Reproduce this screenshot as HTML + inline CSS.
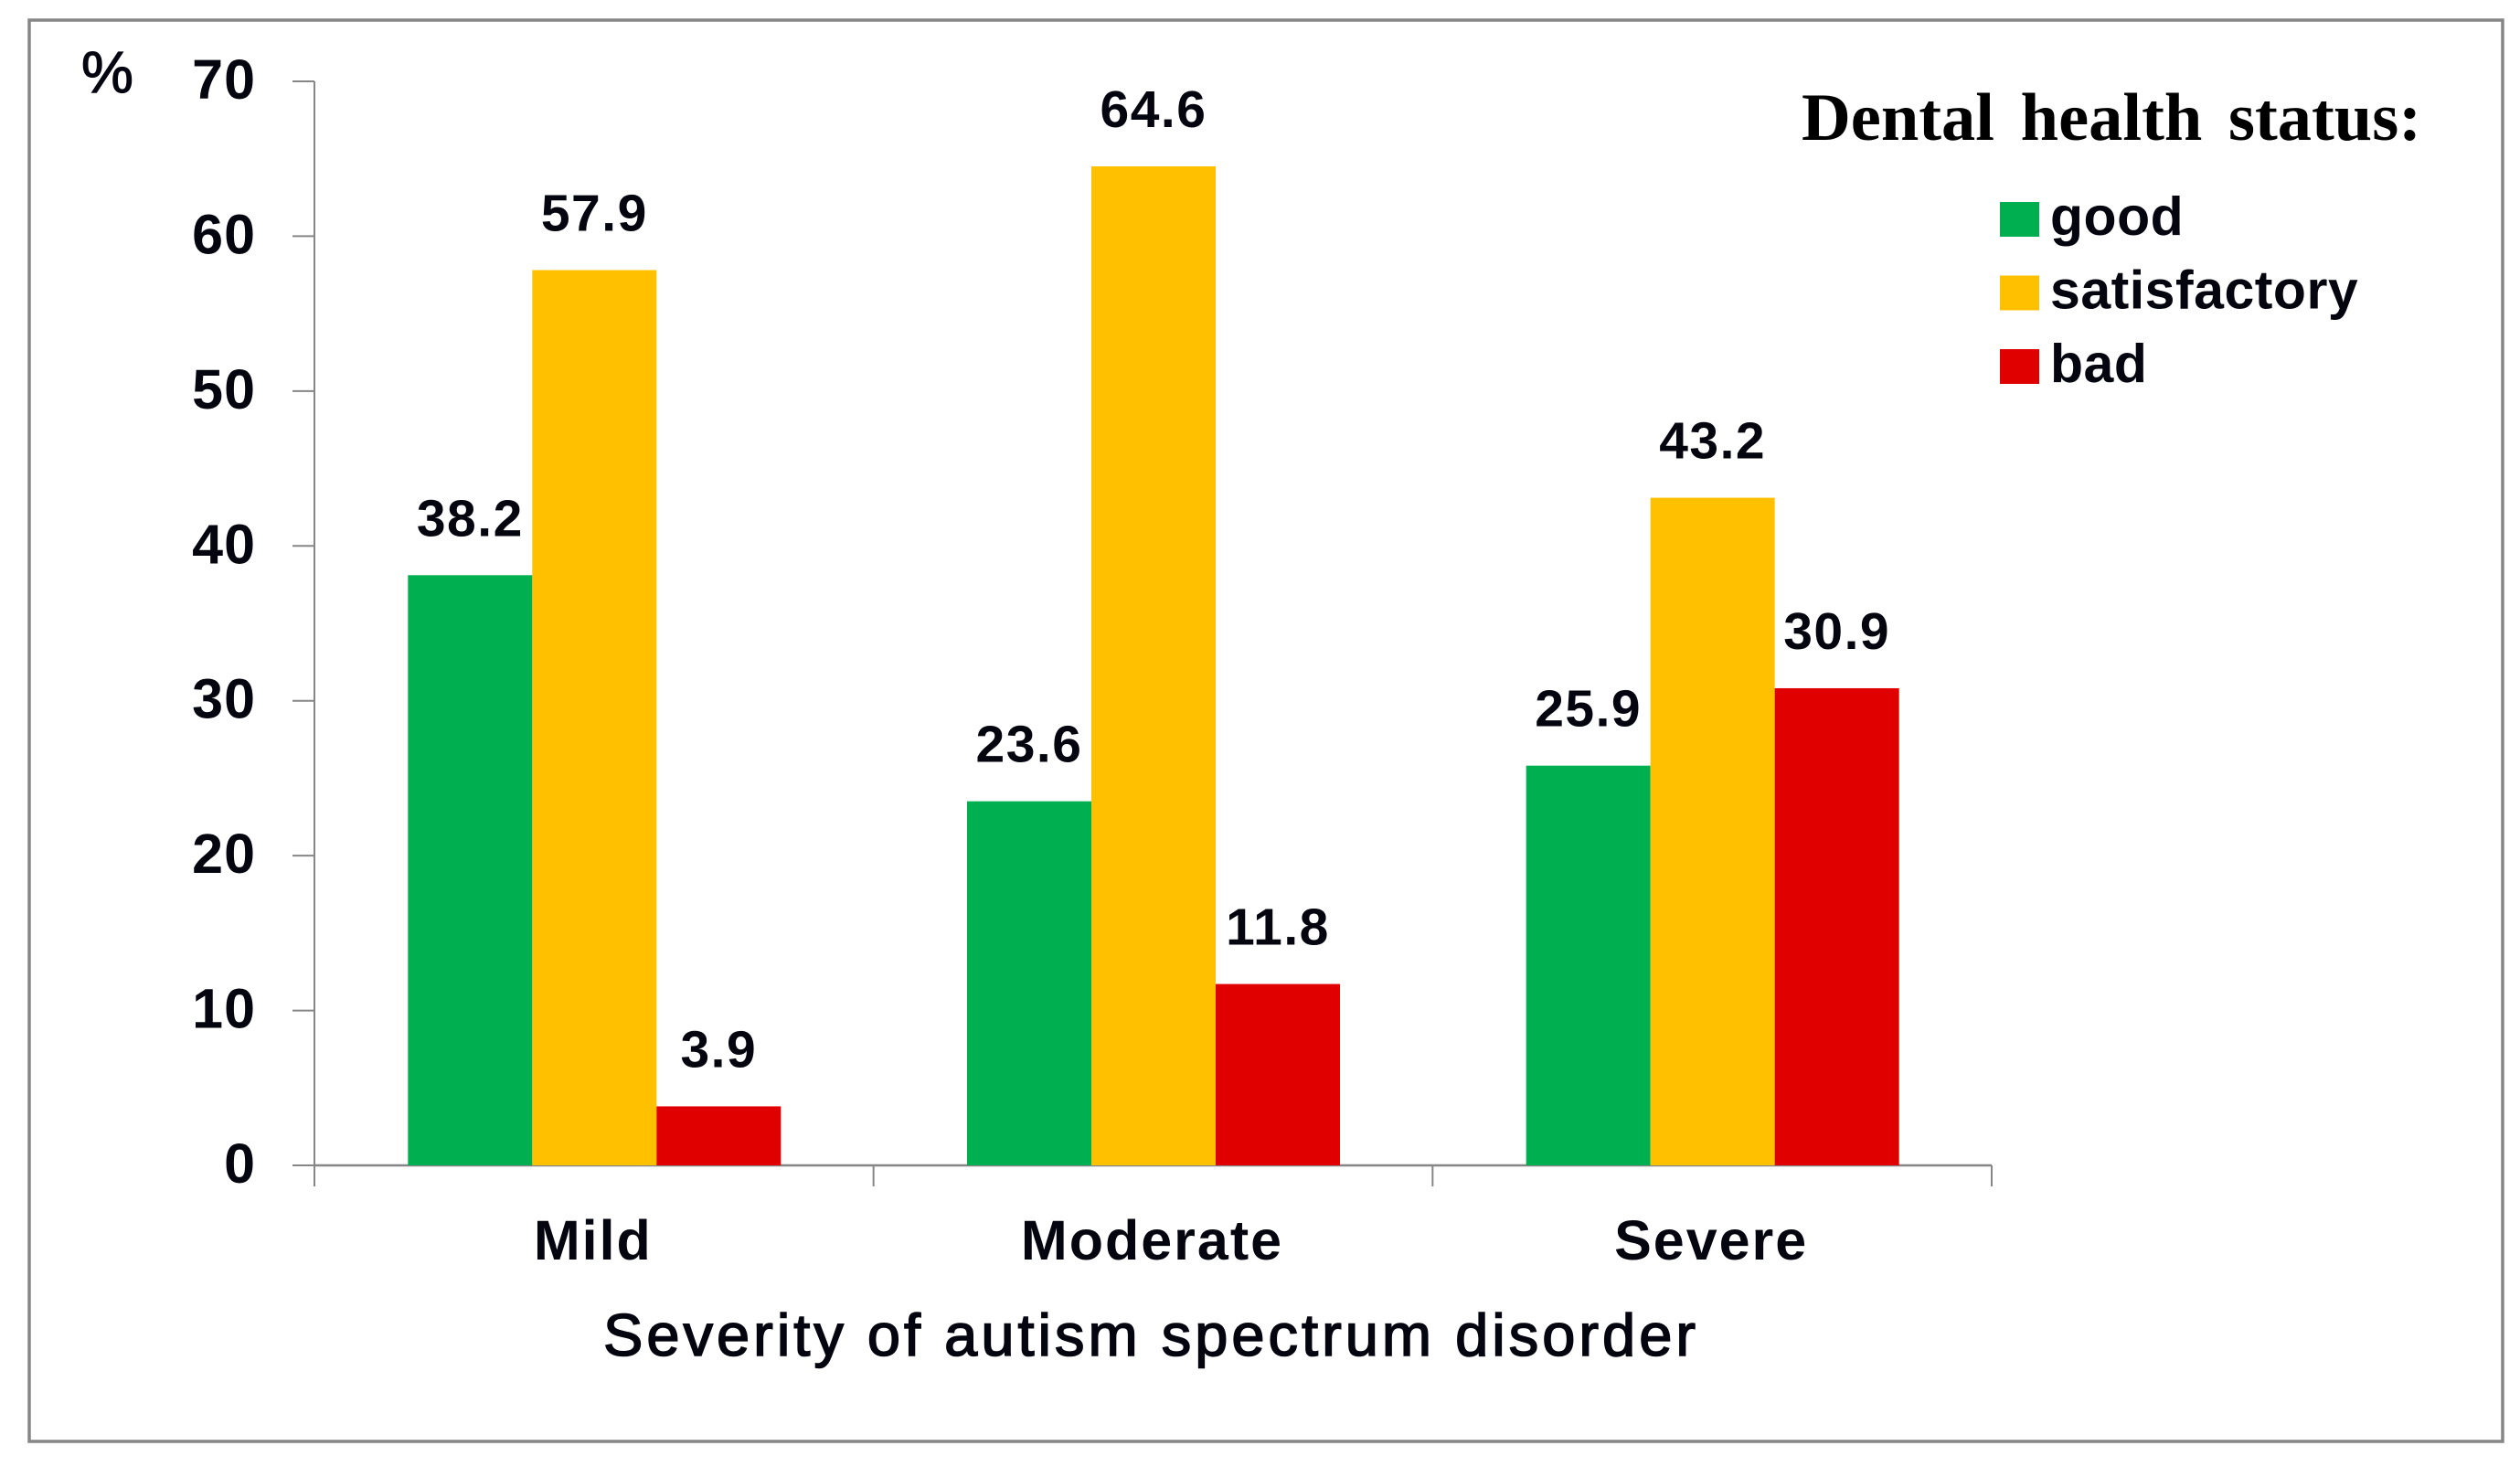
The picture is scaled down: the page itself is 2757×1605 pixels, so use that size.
<!DOCTYPE html>
<html lang="en">
<head>
<meta charset="utf-8">
<title>Dental health status by severity of autism spectrum disorder</title>
<style>
  html, body { margin: 0; padding: 0; background: #ffffff; }
  svg { display: block; }
  text { font-family: "Liberation Sans", sans-serif; fill: #050510; }
  .tick-label { font-size: 61px; font-weight: bold; letter-spacing: 1px; }
  .value-label { font-size: 57px; font-weight: bold; letter-spacing: 1.5px; }
  .cat-label { font-size: 61px; font-weight: bold; letter-spacing: 2px; }
  .legend-label { font-size: 59px; font-weight: bold; letter-spacing: 0.5px; }
</style>
</head>
<body>
<svg id="chart" xmlns="http://www.w3.org/2000/svg" width="2757" height="1605" viewBox="0 0 2757 1605">
  <rect x="0" y="0" width="2757" height="1605" fill="#ffffff"/>
  <rect x="32" y="22" width="2706" height="1555" fill="none" stroke="#868686" stroke-width="3.5"/>
  <text x="89" y="101" font-size="64" stroke="#050510" stroke-width="1.2">%</text>
  <text x="660" y="1483" font-size="65" textLength="1195" lengthAdjust="spacing" stroke="#050510" stroke-width="1.6">Severity of autism spectrum disorder</text>
  <text x="1971" y="153" font-size="74" font-weight="bold" word-spacing="10" textLength="678" lengthAdjust="spacingAndGlyphs" style="font-family:'Liberation Serif',serif;fill:#000">Dental health status:</text>
  <g id="axes"></g>
  <g id="bars"></g>
  <g id="legend"></g>
</svg>
<script>
const categories = ['Mild', 'Moderate', 'Severe'];
const seriesNames = ['good', 'satisfactory', 'bad'];
const goodValues = [38.2, 23.6, 25.9];
const satisfactoryValues = [57.9, 64.6, 43.2];
const badValues = [3.9, 11.8, 30.9];
const yTickValues = [0, 10, 20, 30, 40, 50, 60, 70];

const seriesValues = [goodValues, satisfactoryValues, badValues];
const seriesColors = ['#00B050', '#FFC000', '#E00000'];
const NS = 'http://www.w3.org/2000/svg';
const plot = { left: 344, right: 2179, top: 89, bottom: 1275, yMax: 70 };
const barWidth = 136;
const barShiftX = 0.5;
const barShiftY = 1.5;
const axisColor = '#868686';

function yScale(v) {
  return plot.bottom - (v / plot.yMax) * (plot.bottom - plot.top);
}
function bandWidth() {
  return (plot.right - plot.left) / categories.length;
}
function bandStart(i) {
  return plot.left + i * bandWidth();
}
function barX(catIndex, seriesIndex) {
  const groupWidth = barWidth * seriesNames.length;
  return bandStart(catIndex) + (bandWidth() - groupWidth) / 2 + seriesIndex * barWidth + barShiftX;
}
function make(tag, attrs, text) {
  const el = document.createElementNS(NS, tag);
  for (const k in attrs) el.setAttribute(k, attrs[k]);
  if (text !== undefined) el.textContent = text;
  return el;
}

const axes = document.getElementById('axes');
const bars = document.getElementById('bars');
const legend = document.getElementById('legend');

seriesNames.forEach(function (name, s) {
  categories.forEach(function (cat, c) {
    const v = seriesValues[s][c];
    const top = yScale(v) + barShiftY;
    const rect = make('rect', {
      x: barX(c, s),
      y: top,
      width: barWidth,
      height: plot.bottom - top,
      fill: seriesColors[s]
    });
    
    
    bars.appendChild(rect);

    const label = make('text', {
      class: 'value-label',
      x: barX(c, s) + barWidth / 2,
      y: top - 43,
      'text-anchor': 'middle'
    }, v.toFixed(1));
    
    
    bars.appendChild(label);
  });
});

const yAxisLine = make('line', { x1: plot.left, x2: plot.left, y1: plot.top, y2: plot.bottom + 23, stroke: axisColor, 'stroke-width': 2 });


axes.appendChild(yAxisLine);

const xAxisLine = make('line', { x1: plot.left, x2: plot.right, y1: plot.bottom, y2: plot.bottom, stroke: axisColor, 'stroke-width': 2.5 });


axes.appendChild(xAxisLine);

yTickValues.forEach(function (t) {
  const tick = make('line', { x1: plot.left - 24, x2: plot.left, y1: yScale(t), y2: yScale(t), stroke: axisColor, 'stroke-width': 2 });
  
  
  axes.appendChild(tick);

  const label = make('text', { class: 'tick-label', x: 280, y: yScale(t) + 19, 'text-anchor': 'end' }, String(t));
  
  
  axes.appendChild(label);
});

for (let i = 1; i <= categories.length; i++) {
  const tick = make('line', { x1: bandStart(i), x2: bandStart(i), y1: plot.bottom, y2: plot.bottom + 23, stroke: axisColor, 'stroke-width': 2 });
  
  
  axes.appendChild(tick);
}

categories.forEach(function (cat, c) {
  const label = make('text', { class: 'cat-label', x: bandStart(c) + bandWidth() / 2 - 1, y: 1378, 'text-anchor': 'middle' }, cat);
  
  
  axes.appendChild(label);
});

seriesNames.forEach(function (name, s) {
  const rowY = 221 + s * 80.5;
  const swatch = make('rect', { x: 2188, y: rowY, width: 43, height: 38, fill: seriesColors[s] });
  
  
  legend.appendChild(swatch);

  const label = make('text', { class: 'legend-label', x: 2243, y: rowY + 36 }, name);
  
  
  legend.appendChild(label);
});
</script>
</body>
</html>
